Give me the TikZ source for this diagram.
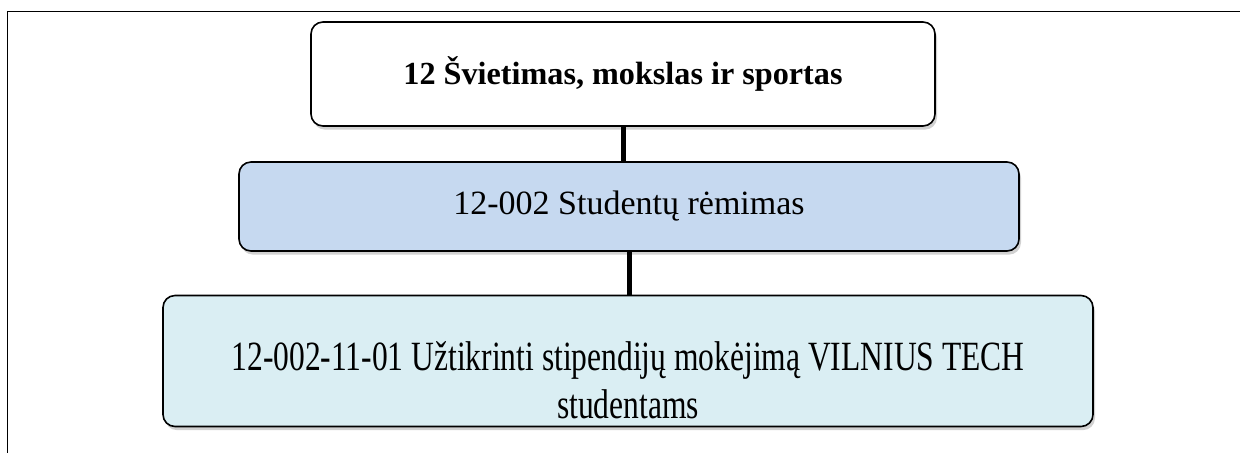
\documentclass[tikz,border=0pt]{standalone}
\usepackage{fontspec}
\setmainfont{Liberation Serif}
\usetikzlibrary{shadows}
\definecolor{boxblue}{HTML}{C6D9F0}
\definecolor{boxaqua}{HTML}{DAEEF3}
\tikzset{
  px/.style={x=0.5pt,y=-0.5pt},
  orgbox/.style={draw=black, line width=0.8pt, rounded corners=6pt, align=center,
    inner sep=0pt, font=\fontsize{16}{18.4}\selectfont,
    drop shadow={shadow xshift=1pt, shadow yshift=-1.8pt, opacity=0.3, fill=black!60}},
  link/.style={line width=2.5pt, draw=black},
  frame/.style={line width=0.8pt, draw=black}
}
\begin{document}
\begin{tikzpicture}[px]
\useasboundingbox (0,0) rectangle (1240,452);
\draw[frame] (7.5,460) -- (7.5,11.5) -- (1245,11.5);
\node[orgbox, fill=white, minimum width=312pt, minimum height=52pt, font=\fontsize{16.1}{18.5}\selectfont\bfseries] (b1) at (623,74) {12 Švietimas, mokslas ir sportas};
\node[orgbox, fill=boxblue, minimum width=390pt, minimum height=44.5pt, font=\fontsize{17}{19.5}\selectfont] (b2) at (629,206.5) {12-002 Studentų rėmimas};
\node[orgbox, fill=boxaqua, minimum width=465pt, minimum height=65.5pt] (b3) at (628,361) {\raisebox{-12pt}[\height][\depth]{\scalebox{0.985}[1.3]{\begin{tabular}{@{}c@{}}12-002-11-01 Užtikrinti stipendijų mokėjimą VILNIUS TECH\\ studentams\end{tabular}}}};
\draw[link] (b1.south -| 623,0) -- (b2.north -| 623,0);
\draw[link] (b2.south) -- (b3.north -| b2.south);
\end{tikzpicture}
\end{document}
